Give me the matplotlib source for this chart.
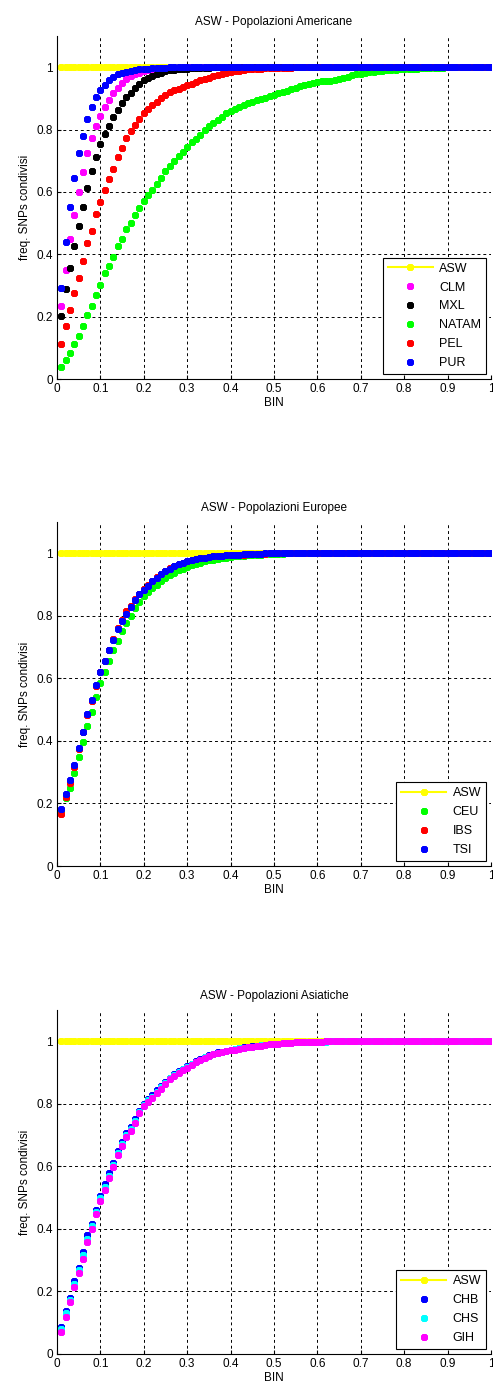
import numpy as np
import matplotlib
matplotlib.use('Agg')
import matplotlib.pyplot as plt

plt.rcParams['font.family'] = ['Liberation Sans', 'DejaVu Sans']

# bin centri 0.01 .. 1.00
bins = np.arange(1, 101) / 100

asw = [1.0] * 100

# ---- Popolazioni Americane ----
clm = [0.234, 0.349, 0.448, 0.526, 0.600, 0.664, 0.725, 0.772, 0.812, 0.844,
       0.873, 0.896, 0.916, 0.934, 0.950, 0.962, 0.972, 0.978, 0.983, 0.987,
       0.990, 0.992, 0.994, 0.995, 0.996, 0.997, 0.998, 0.999, 0.999, 1.0,
       1.0, 1.0, 1.0, 1.0, 1.0, 1.0, 1.0, 1.0, 1.0, 1.0,
       1.0, 1.0, 1.0, 1.0, 1.0, 1.0, 1.0, 1.0, 1.0, 1.0,
       1.0, 1.0, 1.0, 1.0, 1.0, 1.0, 1.0, 1.0, 1.0, 1.0,
       1.0, 1.0, 1.0, 1.0, 1.0, 1.0, 1.0, 1.0, 1.0, 1.0,
       1.0, 1.0, 1.0, 1.0, 1.0, 1.0, 1.0, 1.0, 1.0, 1.0,
       1.0, 1.0, 1.0, 1.0, 1.0, 1.0, 1.0, 1.0, 1.0, 1.0,
       1.0, 1.0, 1.0, 1.0, 1.0, 1.0, 1.0, 1.0, 1.0, 1.0]
mxl = [0.202, 0.288, 0.357, 0.426, 0.490, 0.552, 0.613, 0.668, 0.712, 0.755,
       0.785, 0.812, 0.840, 0.864, 0.886, 0.905, 0.918, 0.935, 0.948, 0.958,
       0.966, 0.973, 0.979, 0.983, 0.987, 0.990, 0.992, 0.994, 0.995, 0.996,
       0.997, 0.998, 0.998, 0.999, 0.999, 1.0, 1.0, 1.0, 1.0, 1.0,
       1.0, 1.0, 1.0, 1.0, 1.0, 1.0, 1.0, 1.0, 1.0, 1.0,
       1.0, 1.0, 1.0, 1.0, 1.0, 1.0, 1.0, 1.0, 1.0, 1.0,
       1.0, 1.0, 1.0, 1.0, 1.0, 1.0, 1.0, 1.0, 1.0, 1.0,
       1.0, 1.0, 1.0, 1.0, 1.0, 1.0, 1.0, 1.0, 1.0, 1.0,
       1.0, 1.0, 1.0, 1.0, 1.0, 1.0, 1.0, 1.0, 1.0, 1.0,
       1.0, 1.0, 1.0, 1.0, 1.0, 1.0, 1.0, 1.0, 1.0, 1.0]
natam = [0.040, 0.061, 0.082, 0.112, 0.138, 0.170, 0.207, 0.234, 0.269, 0.301,
         0.339, 0.362, 0.392, 0.427, 0.449, 0.481, 0.501, 0.526, 0.549, 0.571,
         0.590, 0.608, 0.627, 0.646, 0.668, 0.684, 0.699, 0.715, 0.729, 0.745,
         0.759, 0.771, 0.784, 0.798, 0.811, 0.822, 0.832, 0.841, 0.852, 0.859,
         0.866, 0.872, 0.878, 0.884, 0.889, 0.894, 0.899, 0.903, 0.908, 0.912,
         0.916, 0.920, 0.925, 0.930, 0.935, 0.940, 0.944, 0.948, 0.951, 0.953,
         0.955, 0.956, 0.957, 0.959, 0.962, 0.966, 0.970, 0.974, 0.977, 0.980,
         0.982, 0.984, 0.986, 0.988, 0.989, 0.990, 0.991, 0.992, 0.993, 0.994,
         0.995, 0.995, 0.996, 0.997, 0.997, 0.998, 0.998, 0.999, 0.999, 1.0,
         1.0, 1.0, 1.0, 1.0, 1.0, 1.0, 1.0, 1.0, 1.0, 1.0]
pel = [0.112, 0.170, 0.223, 0.277, 0.325, 0.379, 0.435, 0.475, 0.528, 0.568,
       0.606, 0.641, 0.675, 0.713, 0.741, 0.772, 0.795, 0.815, 0.835, 0.852,
       0.866, 0.878, 0.890, 0.902, 0.912, 0.920, 0.926, 0.931, 0.936, 0.942,
       0.948, 0.954, 0.959, 0.963, 0.967, 0.971, 0.975, 0.979, 0.982, 0.985,
       0.987, 0.989, 0.991, 0.993, 0.994, 0.995, 0.996, 0.997, 0.997, 0.998,
       0.998, 0.999, 0.999, 0.999, 1.0, 1.0, 1.0, 1.0, 1.0, 1.0,
       1.0, 1.0, 1.0, 1.0, 1.0, 1.0, 1.0, 1.0, 1.0, 1.0,
       1.0, 1.0, 1.0, 1.0, 1.0, 1.0, 1.0, 1.0, 1.0, 1.0,
       1.0, 1.0, 1.0, 1.0, 1.0, 1.0, 1.0, 1.0, 1.0, 1.0,
       1.0, 1.0, 1.0, 1.0, 1.0, 1.0, 1.0, 1.0, 1.0, 1.0]
pur = [0.293, 0.440, 0.552, 0.644, 0.724, 0.780, 0.835, 0.872, 0.905, 0.926,
       0.944, 0.958, 0.969, 0.977, 0.982, 0.986, 0.989, 0.992, 0.994, 0.995,
       0.996, 0.997, 0.998, 0.999, 0.999, 1.0, 1.0, 1.0, 1.0, 1.0,
       1.0, 1.0, 1.0, 1.0, 1.0, 1.0, 1.0, 1.0, 1.0, 1.0,
       1.0, 1.0, 1.0, 1.0, 1.0, 1.0, 1.0, 1.0, 1.0, 1.0,
       1.0, 1.0, 1.0, 1.0, 1.0, 1.0, 1.0, 1.0, 1.0, 1.0,
       1.0, 1.0, 1.0, 1.0, 1.0, 1.0, 1.0, 1.0, 1.0, 1.0,
       1.0, 1.0, 1.0, 1.0, 1.0, 1.0, 1.0, 1.0, 1.0, 1.0,
       1.0, 1.0, 1.0, 1.0, 1.0, 1.0, 1.0, 1.0, 1.0, 1.0,
       1.0, 1.0, 1.0, 1.0, 1.0, 1.0, 1.0, 1.0, 1.0, 1.0]

# ---- Popolazioni Europee ----
ceu = [0.175, 0.216, 0.251, 0.298, 0.349, 0.397, 0.448, 0.493, 0.541, 0.585,
       0.620, 0.655, 0.690, 0.720, 0.750, 0.778, 0.800, 0.825, 0.845, 0.862,
       0.875, 0.890, 0.900, 0.912, 0.922, 0.930, 0.938, 0.945, 0.951, 0.957,
       0.962, 0.966, 0.970, 0.974, 0.977, 0.980, 0.982, 0.984, 0.986, 0.988,
       0.990, 0.991, 0.992, 0.993, 0.994, 0.995, 0.996, 0.997, 0.998, 0.998,
       0.999, 0.999, 1.0, 1.0, 1.0, 1.0, 1.0, 1.0, 1.0, 1.0,
       1.0, 1.0, 1.0, 1.0, 1.0, 1.0, 1.0, 1.0, 1.0, 1.0,
       1.0, 1.0, 1.0, 1.0, 1.0, 1.0, 1.0, 1.0, 1.0, 1.0,
       1.0, 1.0, 1.0, 1.0, 1.0, 1.0, 1.0, 1.0, 1.0, 1.0,
       1.0, 1.0, 1.0, 1.0, 1.0, 1.0, 1.0, 1.0, 1.0, 1.0]
ibs = [0.166, 0.220, 0.265, 0.318, 0.375, 0.427, 0.482, 0.528, 0.577, 0.619,
       0.655, 0.690, 0.726, 0.762, 0.786, 0.815, 0.831, 0.853, 0.870, 0.886,
       0.897, 0.912, 0.923, 0.934, 0.944, 0.952, 0.959, 0.965, 0.970, 0.975,
       0.979, 0.982, 0.984, 0.986, 0.988, 0.990, 0.991, 0.992, 0.993, 0.994,
       0.995, 0.996, 0.996, 0.997, 0.998, 0.998, 0.999, 0.999, 1.0, 1.0,
       1.0, 1.0, 1.0, 1.0, 1.0, 1.0, 1.0, 1.0, 1.0, 1.0,
       1.0, 1.0, 1.0, 1.0, 1.0, 1.0, 1.0, 1.0, 1.0, 1.0,
       1.0, 1.0, 1.0, 1.0, 1.0, 1.0, 1.0, 1.0, 1.0, 1.0,
       1.0, 1.0, 1.0, 1.0, 1.0, 1.0, 1.0, 1.0, 1.0, 1.0,
       1.0, 1.0, 1.0, 1.0, 1.0, 1.0, 1.0, 1.0, 1.0, 1.0]
tsi = [0.182, 0.230, 0.275, 0.323, 0.378, 0.429, 0.485, 0.530, 0.580, 0.621,
       0.656, 0.690, 0.724, 0.759, 0.783, 0.807, 0.829, 0.852, 0.869, 0.884,
       0.895, 0.911, 0.922, 0.933, 0.943, 0.951, 0.958, 0.965, 0.970, 0.975,
       0.979, 0.982, 0.984, 0.986, 0.988, 0.990, 0.991, 0.992, 0.993, 0.994,
       0.995, 0.996, 0.997, 0.997, 0.998, 0.999, 0.999, 1.0, 1.0, 1.0,
       1.0, 1.0, 1.0, 1.0, 1.0, 1.0, 1.0, 1.0, 1.0, 1.0,
       1.0, 1.0, 1.0, 1.0, 1.0, 1.0, 1.0, 1.0, 1.0, 1.0,
       1.0, 1.0, 1.0, 1.0, 1.0, 1.0, 1.0, 1.0, 1.0, 1.0,
       1.0, 1.0, 1.0, 1.0, 1.0, 1.0, 1.0, 1.0, 1.0, 1.0,
       1.0, 1.0, 1.0, 1.0, 1.0, 1.0, 1.0, 1.0, 1.0, 1.0]

# ---- Popolazioni Asiatiche ----
chb = [0.087, 0.137, 0.180, 0.232, 0.276, 0.326, 0.379, 0.416, 0.459, 0.506,
       0.543, 0.578, 0.612, 0.650, 0.678, 0.705, 0.727, 0.752, 0.778, 0.800,
       0.815, 0.828, 0.843, 0.857, 0.871, 0.883, 0.894, 0.904, 0.912, 0.920,
       0.928, 0.936, 0.942, 0.949, 0.955, 0.960, 0.964, 0.967, 0.970, 0.973,
       0.976, 0.978, 0.980, 0.982, 0.984, 0.986, 0.988, 0.989, 0.990, 0.991,
       0.992, 0.993, 0.994, 0.995, 0.996, 0.997, 0.997, 0.998, 0.998, 0.999,
       0.999, 1.0, 1.0, 1.0, 1.0, 1.0, 1.0, 1.0, 1.0, 1.0,
       1.0, 1.0, 1.0, 1.0, 1.0, 1.0, 1.0, 1.0, 1.0, 1.0,
       1.0, 1.0, 1.0, 1.0, 1.0, 1.0, 1.0, 1.0, 1.0, 1.0,
       1.0, 1.0, 1.0, 1.0, 1.0, 1.0, 1.0, 1.0, 1.0, 1.0]
chs = [0.080, 0.130, 0.173, 0.224, 0.268, 0.316, 0.369, 0.408, 0.454, 0.499,
       0.535, 0.570, 0.605, 0.644, 0.672, 0.700, 0.720, 0.746, 0.773, 0.797,
       0.811, 0.823, 0.839, 0.853, 0.868, 0.881, 0.892, 0.902, 0.910, 0.918,
       0.926, 0.934, 0.940, 0.948, 0.953, 0.959, 0.963, 0.966, 0.969, 0.972,
       0.975, 0.977, 0.979, 0.981, 0.983, 0.985, 0.987, 0.989, 0.990, 0.991,
       0.992, 0.993, 0.994, 0.995, 0.996, 0.996, 0.997, 0.998, 0.998, 0.999,
       0.999, 0.999, 1.0, 1.0, 1.0, 1.0, 1.0, 1.0, 1.0, 1.0,
       1.0, 1.0, 1.0, 1.0, 1.0, 1.0, 1.0, 1.0, 1.0, 1.0,
       1.0, 1.0, 1.0, 1.0, 1.0, 1.0, 1.0, 1.0, 1.0, 1.0,
       1.0, 1.0, 1.0, 1.0, 1.0, 1.0, 1.0, 1.0, 1.0, 1.0]
gih = [0.069, 0.119, 0.165, 0.214, 0.259, 0.305, 0.358, 0.400, 0.448, 0.490,
       0.525, 0.562, 0.597, 0.637, 0.666, 0.695, 0.713, 0.740, 0.769, 0.793,
       0.806, 0.818, 0.834, 0.848, 0.864, 0.878, 0.889, 0.899, 0.908, 0.915,
       0.924, 0.933, 0.939, 0.947, 0.952, 0.958, 0.962, 0.965, 0.968, 0.971,
       0.973, 0.976, 0.978, 0.980, 0.982, 0.984, 0.986, 0.988, 0.990, 0.991,
       0.992, 0.993, 0.994, 0.995, 0.996, 0.997, 0.997, 0.998, 0.998, 0.999,
       0.999, 1.0, 1.0, 1.0, 1.0, 1.0, 1.0, 1.0, 1.0, 1.0,
       1.0, 1.0, 1.0, 1.0, 1.0, 1.0, 1.0, 1.0, 1.0, 1.0,
       1.0, 1.0, 1.0, 1.0, 1.0, 1.0, 1.0, 1.0, 1.0, 1.0,
       1.0, 1.0, 1.0, 1.0, 1.0, 1.0, 1.0, 1.0, 1.0, 1.0]

xticks = [0, 0.1, 0.2, 0.3, 0.4, 0.5, 0.6, 0.7, 0.8, 0.9, 1]
xticklabels = ['0', '0.1', '0.2', '0.3', '0.4', '0.5', '0.6', '0.7', '0.8', '0.9', '1']
yticks = [0, 0.2, 0.4, 0.6, 0.8, 1]
yticklabels = ['0', '0.2', '0.4', '0.6', '0.8', '1']

pannelli = [
    ('ASW - Popolazioni Americane', [0.7271, 0.2469],
     [('CLM', clm, '#ff00ff'), ('MXL', mxl, '#000000'), ('NATAM', natam, '#00ff00'),
      ('PEL', pel, '#ff0000'), ('PUR', pur, '#0000ff')]),
    ('ASW - Popolazioni Europee', [0.3765, 0.2477],
     [('CEU', ceu, '#00ff00'), ('IBS', ibs, '#ff0000'), ('TSI', tsi, '#0000ff')]),
    ('ASW - Popolazioni Asiatiche', [0.0252, 0.2477],
     [('CHB', chb, '#0000ff'), ('CHS', chs, '#00ffff'), ('GIH', gih, '#ff00ff')]),
]

star = (8, 2, 0)  # asterisco tipo MATLAB
fs = 8.5

fig = plt.figure(figsize=(4.93, 13.89), dpi=100)
for titolo, (bottom, height), serie in pannelli:
    ax = fig.add_axes([0.1156, bottom, 0.8803, height])
    ax.plot(bins, asw, color='#ffff00', lw=1.5, marker=star, ms=5, mew=2, label='ASW')
    for nome, valori, col in serie:
        ax.plot(bins, valori, ls='none', marker=star, ms=5, mew=2, color=col, label=nome)
    ax.set_xlim(0, 1)
    ax.set_ylim(0, 1.1)
    ax.set_xticks(xticks)
    ax.set_xticklabels(xticklabels)
    ax.set_yticks(yticks)
    ax.set_yticklabels(yticklabels)
    ax.tick_params(direction='in', labelsize=fs, length=3, pad=3)
    ax.grid(True, color='black', ls=(0, (3, 3)), lw=0.7)
    ax.spines['top'].set_visible(False)
    ax.spines['right'].set_visible(False)
    ax.set_title(titolo, fontsize=fs, pad=8)
    ax.set_xlabel('BIN', fontsize=fs, labelpad=1)
    ax.set_ylabel('freq. SNPs condivisi', fontsize=fs, labelpad=4)
    leg = ax.legend(loc='lower right', fontsize=9, fancybox=False, framealpha=1,
                    edgecolor='black', handlelength=3.6, handletextpad=0.5,
                    borderaxespad=0.4, labelspacing=0.55, borderpad=0.4)
    leg.get_frame().set_linewidth(0.8)

fig.savefig('out.png', dpi=100)
